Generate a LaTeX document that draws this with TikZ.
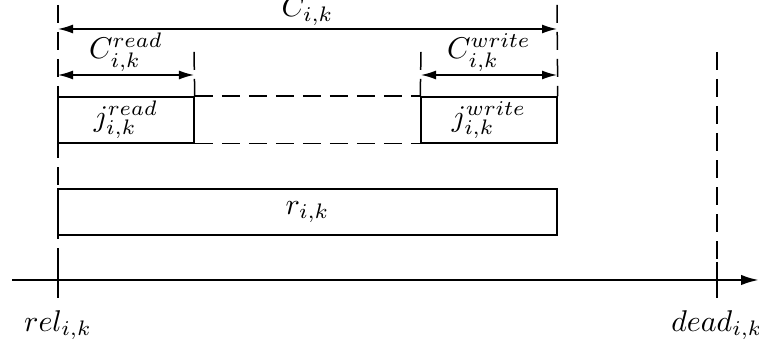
\documentclass[tikz,border=0pt]{standalone}
\usetikzlibrary{arrows.meta,fit,positioning}
\tikzset{
  box/.style={draw,line width=0.5pt,inner sep=0pt},
  guide/.style={line width=0.5pt,dash pattern=on 6pt off 3pt},
  dim/.style={line width=0.5pt,{Latex[length=5pt,width=3pt]}-{Latex[length=5pt,width=3pt]}},
  tick/.style={line width=0.8pt},
  lbl/.style={inner sep=1pt}
}
\begin{document}
\begin{tikzpicture}[x=0.3333pt,y=-0.3333pt]
  \useasboundingbox (0,0) rectangle (759,343);

  % jobs
  \node[box,fit={(58,97) (194,143)}] (jread) {};
  \node[box,fit={(421,97) (557,143)}] (jwrite) {};
  \node[box,fit={(58,189) (557,235)}] (resp) {};
  \node (jreadtxt) at (jread.center) {$j^{read}_{i,k}$};
  \node (jwritetxt) at (jwrite.center) {$j^{write}_{i,k}$};
  \node (resptxt) at (resp.center) {$r_{i,k}$};
  \draw[guide] (jread.north east) -- (jwrite.north west);
  \draw[guide] (jread.south east) -- (jwrite.south west);

  % time axis
  \coordinate (t0) at (12,280);
  \coordinate (t1) at (759,280);
  \draw[line width=0.8pt,-{Latex[length=6pt,width=3.5pt]}] (t0) -- (t1);
  \coordinate (rel) at (58,280);
  \coordinate (dead) at (717,280);
  \draw[tick] ([yshift=6pt]rel) -- ([yshift=-6pt]rel) coordinate (relbot);
  \draw[tick] ([yshift=6pt]dead) -- ([yshift=-6pt]dead) coordinate (deadbot);
  \node[below=4pt of relbot,inner sep=0pt] (rellabel) {$rel_{i,k}$};
  \node[below=4pt of deadbot,inner sep=0pt] (deadlabel) {$dead_{i,k}$};

  % guides
  \coordinate (lefttop) at (58,5);
  \coordinate (righttop) at (557,5);
  \coordinate (deadtop) at (717,52);
  \coordinate (readtop) at (194,52);
  \coordinate (writetop) at (421,52);
  \draw[guide] (lefttop) -- (rel);
  \draw[guide] (righttop) -- (jwrite.north east);
  \draw[guide] (deadtop) -- ([yshift=6pt]dead);
  \draw[guide] (readtop) -- (jread.north east);
  \draw[guide] (writetop) -- (jwrite.north west);

  % durations
  \coordinate (c0) at (58,29);
  \coordinate (c1) at (557,29);
  \coordinate (cr0) at (58,75);
  \coordinate (cr1) at (194,75);
  \coordinate (cw0) at (421,75);
  \coordinate (cw1) at (557,75);
  \draw[dim] (c0) -- (c1) node[midway,above,lbl] (clabel) {$C_{i,k}$};
  \draw[dim] (cr0) -- (cr1) node[midway,above,lbl] (crlabel) {$C^{read}_{i,k}$};
  \draw[dim] (cw0) -- (cw1) node[midway,above,lbl] (cwlabel) {$C^{write}_{i,k}$};
\end{tikzpicture}
\end{document}
